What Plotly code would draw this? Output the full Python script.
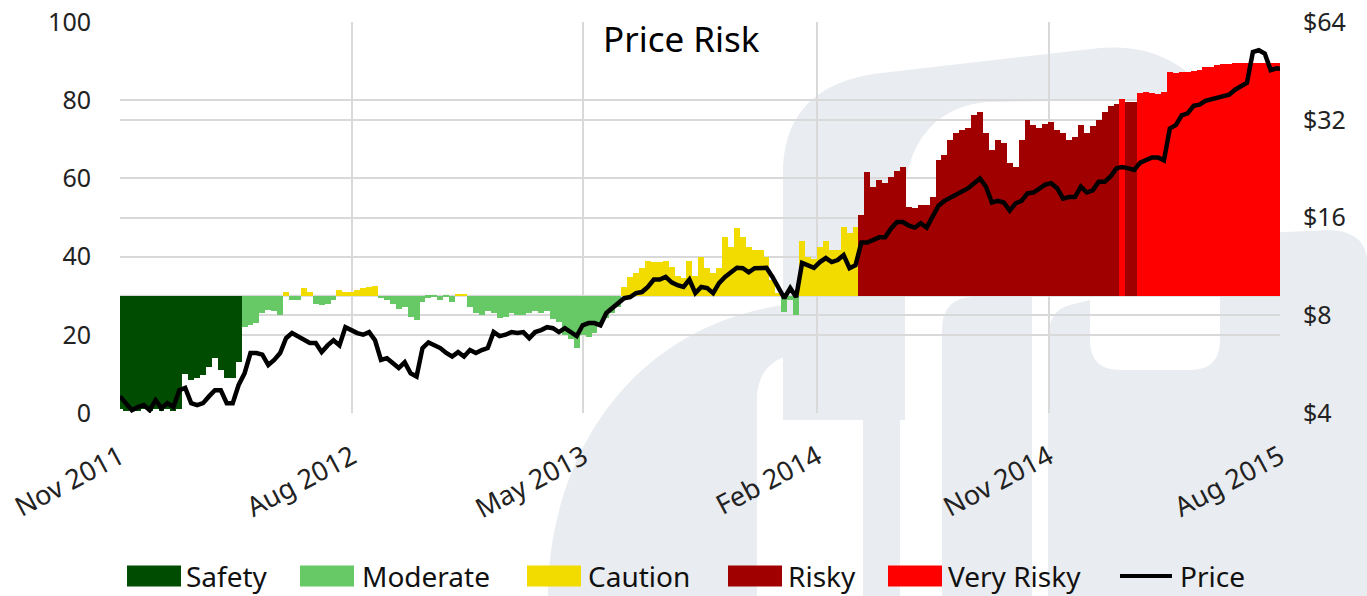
import plotly.graph_objects as go
import pandas as pd

# ---------------- data (weekly readings from the reference) ----------------
start_date = "2011-11-01"

risk = [
    1, 0.5, 1, 0.5, 1, 0.5, 1, 0.5, 1, 0.5, 1,
    10, 8.4, 9, 9.7, 11.8, 14, 11, 9, 9, 13,
    22, 22.5, 23, 25.6, 26.3, 26, 25,
    31, 29, 29, 32, 31, 28, 27.5, 28, 29,
    31.4, 31, 31, 31.5, 32, 32.3, 32.6,
    29.4, 29, 28, 26.5, 27, 24.6, 23.8, 28.5, 29.5, 29.8, 29, 29.8, 28.4,
    30.5, 30.4,
    27, 25.6, 25, 26, 25.6, 24.2,
    24.6, 25.6, 25, 25, 25.6, 26, 25.6, 26, 24, 23.3, 20, 19, 16.6, 20, 19.5, 20.5, 22.5, 24.3, 25.6, 27,
    32.3, 34.8, 35.8, 37, 39, 38.6, 38.6, 39, 37.3, 35, 34.5, 39, 35, 40, 37, 35.8, 37, 45, 42.5, 47.3,
    45, 42.5, 41.7, 41.7, 40, 34, 30.7,
    25.8, 29, 25,
    44, 40, 39.5, 42.5, 44, 41.7, 41.7, 47.6, 46, 47.6,
    50.6, 61.6, 57.8, 59.6, 58.8, 60.4, 62, 63, 52.7, 52.4, 53.2, 53.2, 55.2,
    64.7, 66, 69.8, 71.6, 72.4, 73, 76.2, 77, 71.6, 67.3, 69.8, 69, 64, 63, 69.8, 75, 73.7, 73, 74,
    74.5, 72.4, 71.6, 69.8, 70.6, 73.7, 71.6,
    73.5, 75, 77, 78.5, 79,
    80.3, 79.5, 79.6, 81.8, 82, 81.8, 81.5, 82,
    87.2, 87, 87.2, 87.2, 87.4, 87.6, 88.5, 88.5, 89, 89.2, 89.3, 89.5, 89.6, 89.6, 89.6, 89.5, 89.5,
    89.5, 89.5, 89.4,
]

price = [
    4.5, 4.29, 4.08, 4.17, 4.23, 4.08, 4.38, 4.14, 4.29, 4.17,
    4.70, 4.78, 4.29, 4.23, 4.29, 4.5, 4.70, 4.70, 4.29, 4.29,
    4.88, 5.3, 6.12, 6.12, 6.05, 5.62, 5.83, 6.12, 6.8, 7.05,
    6.9, 6.7, 6.57, 6.57, 6.16, 6.46, 6.7, 6.46, 7.35, 7.2,
    7.05, 6.97, 7.1, 6.7, 5.83, 5.9, 5.7, 5.5, 5.73, 5.3,
    5.18, 6.34, 6.6, 6.46, 6.34, 6.12, 5.97, 6.16, 5.97, 6.25,
    6.12, 6.25, 6.34, 7.1, 6.9, 6.97, 7.1, 7.05, 7.1, 6.8,
    7.1, 7.2, 7.35, 7.3, 7.1, 7.3, 7.1, 6.9, 7.45, 7.57,
    7.57, 7.45, 8.13, 8.42, 8.72, 9.03, 9.1, 9.36, 9.43, 9.78,
    10.3, 10.3, 10.5, 10.1, 9.9, 9.78, 10.3, 9.36, 9.78, 9.7,
    9.36, 10.05, 10.5, 10.85, 11.2, 11.17, 10.85, 11.17, 11.17, 11.2,
    10.5, 9.78, 9.03, 9.7, 9.1, 11.6, 11.4, 11.2, 11.66, 12.0,
    11.66, 11.83, 12.26, 11.17, 11.4, 13.4, 13.4, 13.6, 13.9, 13.9,
    14.8, 15.5, 15.5, 15.1, 14.9, 15.37, 14.9, 16.1, 17.4, 18.0,
    18.4, 18.7, 19.1, 19.7, 20.4, 21.1, 19.9, 17.8, 18.0, 17.8,
    16.8, 17.7, 18.0, 19.0, 19.1, 19.7, 20.2, 20.4, 19.7, 18.3,
    18.5, 18.5, 19.9, 19.1, 19.4, 20.6, 20.6, 21.4, 22.7, 22.9,
    22.7, 22.4, 23.6, 24.0, 24.5, 24.5, 24.0, 30.1, 30.8, 33.0,
    33.5, 35.3, 35.6, 36.6, 37.0, 37.2, 37.6, 38.2, 39.6, 40.6,
    41.6, 51.7, 52.4, 51.2, 45.5, 46.1, 45.8,
]

categories = ["Safety", "Moderate", "Caution", "Risky", "Very Risky"]
category_floor = [0, 15, 30, 50, 80]          # lower bound of each risk band
risk_baseline = 30

x_tick_dates = ["2011-11-01", "2012-08-01", "2013-05-01", "2014-02-01", "2014-11-01", "2015-08-01"]
x_tick_labels = ["Nov 2011", "Aug 2012", "May 2013", "Feb 2014", "Nov 2014", "Aug 2015"]
price_ticks = [4, 8, 16, 32, 64]
price_tick_labels = ["$4", "$8", "$16", "$32", "$64"]
risk_ticks = [0, 20, 40, 60, 80, 100]

# ---------------- styling ----------------
colors = ["#004c00", "#66c966", "#f2dc00", "#a00000", "#ff0000"]
FONT = "Noto Sans"
GRID = "#d9d9d9"
WM = "#e9ecf0"
W, H = 1367, 596
L, R, T, B = 120, 1280, 22, 413    # plot area in pixels

def px_x(px):
    return (px - L) / (R - L)

def px_y(py):
    return (B - py) / (B - T)

dates = pd.date_range(start_date, periods=len(risk), freq="7D")
week_ms = 7 * 24 * 3600 * 1000

def band(v):
    k = 0
    for j, f in enumerate(category_floor):
        if v >= f:
            k = j
    return k

fig = go.Figure()

for k, name in enumerate(categories):
    xs = [d for d, v in zip(dates, risk) if band(v) == k]
    ys = [v - risk_baseline for v in risk if band(v) == k]
    fig.add_trace(go.Bar(
        x=xs, y=ys, base=risk_baseline, name=name,
        marker=dict(color=colors[k], line=dict(width=0)),
        width=week_ms, showlegend=False, yaxis="y",
    ))

fig.add_trace(go.Scatter(
    x=dates, y=price, name="Price", mode="lines",
    line=dict(color="black", width=4.5), yaxis="y2", showlegend=False,
))

# ---------------- watermark (light grey logo shapes behind everything) ----------------
def svg(cmds):
    """cmds: list of (letter, [x, y, x, y, ...]) in pixel coords -> paper path"""
    out = []
    for c, pts in cmds:
        if c == "Z":
            out.append("Z")
            continue
        conv = []
        for i in range(0, len(pts), 2):
            conv.append(f"{px_x(pts[i]):.5f},{px_y(pts[i + 1]):.5f}")
        out.append(c + " ".join(conv))
    return " ".join(out)

watermark_paths = [
    # tall arch: left stem + top band
    [("M", [783, 420]), ("L", [783, 175]), ("C", [783, 110, 820, 78, 890, 72]),
     ("L", [1100, 48]), ("C", [1150, 44, 1185, 62, 1215, 100]), ("L", [1245, 150]),
     ("L", [1205, 150]), ("C", [1185, 118, 1160, 100, 1120, 100]), ("L", [990, 102]),
     ("C", [940, 104, 905, 140, 905, 200]), ("L", [905, 420]), ("Z", [])],
    # lower-left arch with opening
    [("M", [548, 596]), ("C", [548, 470, 620, 330, 783, 305]), ("L", [900, 300]),
     ("L", [900, 596]), ("L", [863, 596]), ("L", [863, 400]),
     ("C", [863, 370, 845, 353, 810, 353]), ("C", [775, 353, 757, 370, 757, 400]),
     ("L", [757, 596]), ("Z", [])],
    # column
    [("M", [942, 596]), ("L", [942, 330]), ("Q", [942, 297, 975, 297]),
     ("L", [1032, 297]), ("L", [1032, 596]), ("Z", [])],
    # right block with inner opening and tall right part
    [("M", [1048, 596]), ("L", [1048, 340]), ("Q", [1048, 310, 1070, 305]),
     ("L", [1090, 300]), ("L", [1090, 340]), ("Q", [1090, 370, 1120, 370]),
     ("L", [1190, 370]), ("Q", [1220, 370, 1220, 340]), ("L", [1220, 270]),
     ("Q", [1222, 236, 1265, 233]), ("L", [1330, 230]), ("Q", [1367, 232, 1367, 262]),
     ("L", [1367, 596]), ("Z", [])],
]

shapes = []
for p in watermark_paths:
    shapes.append(dict(type="path", xref="paper", yref="paper", path=svg(p),
                       fillcolor=WM, line=dict(width=0), layer="below"))

# base line at 30 (bars grow from it)
shapes.append(dict(type="line", xref="paper", yref="y", x0=0, x1=1,
                   y0=risk_baseline, y1=risk_baseline,
                   line=dict(color=GRID, width=2), layer="below"))

# ---------------- custom legend ----------------
legend_rect_px = [127, 300, 527, 728, 888]
legend_text_px = [184, 360, 586, 786, 946]
ly = 576
annotations = []
for k, name in enumerate(categories):
    shapes.append(dict(type="rect", xref="paper", yref="paper",
                       x0=px_x(legend_rect_px[k]), x1=px_x(legend_rect_px[k] + 54),
                       y0=px_y(ly + 10.5), y1=px_y(ly - 10.5),
                       fillcolor=colors[k], line=dict(width=0)))
    annotations.append(dict(text=name, xref="paper", yref="paper",
                            x=px_x(legend_text_px[k]), y=px_y(ly), xanchor="left",
                            yanchor="middle", showarrow=False,
                            font=dict(family=FONT, size=28, color="#111")))
shapes.append(dict(type="line", xref="paper", yref="paper",
                   x0=px_x(1120), x1=px_x(1172), y0=px_y(ly), y1=px_y(ly),
                   line=dict(color="black", width=4)))
annotations.append(dict(text="Price", xref="paper", yref="paper",
                        x=px_x(1178), y=px_y(ly), xanchor="left", yanchor="middle",
                        showarrow=False, font=dict(family=FONT, size=28, color="#111")))

# title inside plot
annotations.append(dict(text="Price Risk", xref="paper", yref="paper",
                        x=px_x(681), y=px_y(38), xanchor="center", yanchor="middle",
                        showarrow=False, font=dict(family=FONT, size=35, color="#000")))

fig.update_layout(
    width=W, height=H,
    margin=dict(l=L, r=W - R, t=T, b=H - B, pad=0, autoexpand=False),
    paper_bgcolor="white", plot_bgcolor="rgba(0,0,0,0)",
    barmode="overlay", bargap=0,
    showlegend=False,
    font=dict(family=FONT, size=25, color="#222"),
    xaxis=dict(type="date", range=[x_tick_dates[0], x_tick_dates[-1]],
               tickvals=x_tick_dates, ticktext=x_tick_labels, tickangle=-28,
               showgrid=True, gridcolor=GRID, gridwidth=2, automargin=False,
               showline=False, zeroline=False, ticks="", ticklabelstandoff=22,
               tickfont=dict(family=FONT, size=27, color="#222")),
    yaxis=dict(range=[0, 100], tickvals=risk_ticks, showgrid=True, gridcolor=GRID,
               gridwidth=2, zeroline=False, showline=False, ticks="", automargin=False,
               ticklabelstandoff=28,
               tickfont=dict(family=FONT, size=25, color="#222")),
    yaxis2=dict(type="log", range=[0.60206, 1.80618], overlaying="y", side="right",
                tickvals=price_ticks, ticktext=price_tick_labels, automargin=False,
                showgrid=True, gridcolor=GRID, gridwidth=2, zeroline=False,
                showline=False, ticks="", ticklabelstandoff=22,
                tickfont=dict(family=FONT, size=25, color="#222")),
    shapes=shapes,
    annotations=annotations,
)

fig.write_html("out.html", config={"displayModeBar": False},
               post_script="document.body.style.margin='0';")
